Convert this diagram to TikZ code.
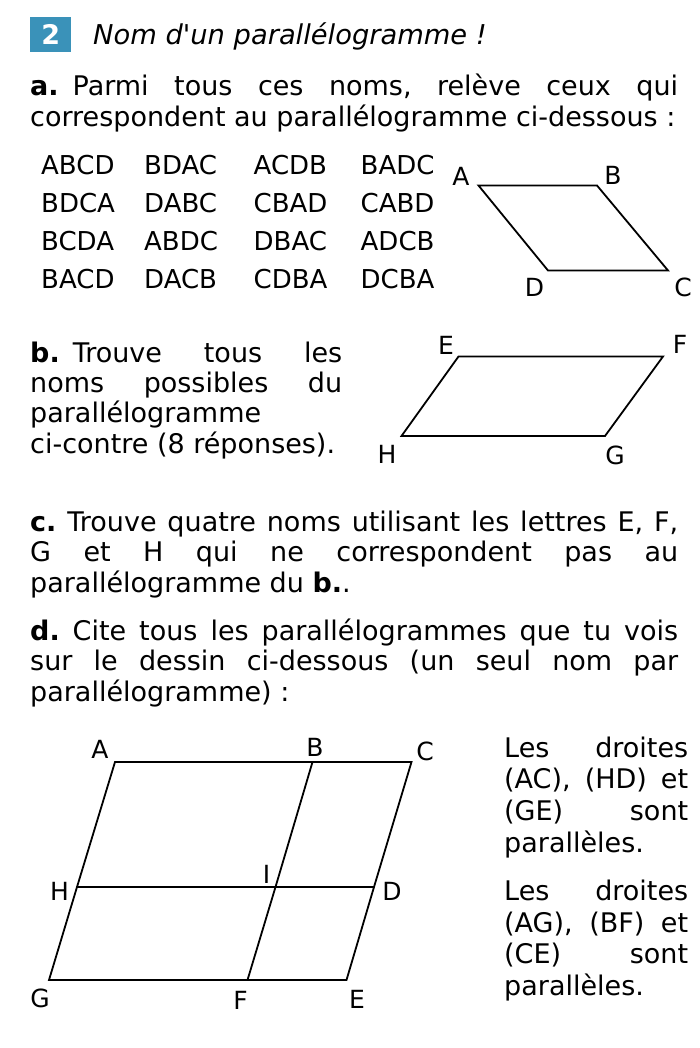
\documentclass[tikz,border=0pt]{standalone}
\usepackage{fontspec}
\setmainfont{DejaVu Sans}
\definecolor{boxblue}{RGB}{58,146,185}
\frenchspacing
\begin{document}
\begin{tikzpicture}[x=1pt,y=-1pt,
  txt/.style={anchor=base west,inner sep=0pt,font=\fontsize{27}{30}\selectfont},
  nm/.style={anchor=base west,inner sep=0pt,font=\fontsize{26}{30}\selectfont},
  lbl/.style={inner sep=0pt,font=\fontsize{25}{28}\selectfont},
  seg/.style={line width=1.8pt,line join=miter,line cap=round}]
\useasboundingbox[fill=white] (0,0) rectangle (700,1048);

% title
\node[fill=boxblue,minimum width=41pt,minimum height=35pt,inner sep=0pt,anchor=north west,
  text=white,font=\fontsize{27}{30}\selectfont\bfseries] (num) at (30,17) {2};
\node[txt,font=\fontsize{27.3}{30}\selectfont\itshape] (title) at (93,45) {Nom d\textquotesingle un parallélogramme !};

% part a
\node[txt] (a1) at (30,96) {\makebox[648pt][s]{\textbf{a.}\hspace{14pt}Parmi tous ces noms, relève ceux qui}};
\node[txt] (a2) at (30,127) {correspondent au parallélogramme ci-dessous :};

% names
\node[nm] (n11) at (41,175) {ABCD};
\node[nm] (n12) at (144,175) {BDAC};
\node[nm] (n13) at (253.5,175) {ACDB};
\node[nm] (n14) at (360.5,175) {BADC};
\node[nm] (n21) at (41,213) {BDCA};
\node[nm] (n22) at (144,213) {DABC};
\node[nm] (n23) at (253.5,213) {CBAD};
\node[nm] (n24) at (360.5,213) {CABD};
\node[nm] (n31) at (41,250.5) {BCDA};
\node[nm] (n32) at (144,250.5) {ABDC};
\node[nm] (n33) at (253.5,250.5) {DBAC};
\node[nm] (n34) at (360.5,250.5) {ADCB};
\node[nm] (n41) at (41,288) {BACD};
\node[nm] (n42) at (144,288) {DACB};
\node[nm] (n43) at (253.5,288) {CDBA};
\node[nm] (n44) at (360.5,288) {DCBA};

% parallelogram ABCD
\coordinate (pA) at (478.5,185.5);
\coordinate (pB) at (597,185.5);
\coordinate (pC) at (668,270.5);
\coordinate (pD) at (548,270.5);
\draw[seg] (pA) -- (pB) -- (pC) -- (pD) -- cycle;
\node[lbl] (lA) at (461,176) {A};
\node[lbl] (lB) at (613,175) {B};
\node[lbl] (lD) at (534.5,287) {D};
\node[lbl] (lC) at (683,287) {C};

% part b
\node[txt] (b1) at (30,362) {\makebox[312pt][s]{\textbf{b.}\hspace{13pt}Trouve tous les}};
\node[txt] (b2) at (30,392) {\makebox[312pt][s]{noms possibles du}};
\node[txt] (b3) at (30,422) {parallélogramme};
\node[txt] (b4) at (30,453) {ci-contre (8 réponses).};

% parallelogram EFGH
\coordinate (qE) at (458.5,356.5);
\coordinate (qF) at (663,356.5);
\coordinate (qG) at (605,436);
\coordinate (qH) at (401.5,436);
\draw[seg] (qE) -- (qF) -- (qG) -- (qH) -- cycle;
\node[lbl] (lE) at (446,345) {E};
\node[lbl] (lF) at (680,344) {F};
\node[lbl] (lH) at (387,454) {H};
\node[lbl] (lG) at (615,455) {G};

% part c
\node[txt] (c1) at (30,531) {\makebox[648pt][s]{\textbf{c.} Trouve quatre noms utilisant les lettres E, F,}};
\node[txt] (c2) at (30,561) {\makebox[648pt][s]{G et H qui ne correspondent pas au}};
\node[txt] (c3) at (30,592) {parallélogramme du \textbf{b.}.};

% part d
\node[txt] (d1) at (30,640) {\makebox[648pt][s]{\textbf{d.} Cite tous les parallélogrammes que tu vois}};
\node[txt] (d2) at (30,670) {\makebox[648pt][s]{sur le dessin ci-dessous (un seul nom par}};
\node[txt] (d3) at (30,701) {parallélogramme) :};

% figure d
\coordinate (A) at (115,762);
\coordinate (B) at (312.5,762);
\coordinate (C) at (411.5,762);
\coordinate (H) at (77,887);
\coordinate (I) at (275.5,887);
\coordinate (D) at (374,887);
\coordinate (G) at (49,980);
\coordinate (F) at (247.5,980);
\coordinate (E) at (346.5,980);
\draw[seg] (A) -- (B) -- (C) -- (D) -- (E) -- (F) -- (G) -- (H) -- cycle;
\draw[seg] (H) -- (I) -- (D);
\draw[seg] (B) -- (I) -- (F);
\node[lbl] (tA) at (100,749.5) {A};
\node[lbl] (tB) at (315,747) {B};
\node[lbl] (tC) at (425,751) {C};
\node[lbl] (tH) at (59.5,891) {H};
\node[lbl] (tI) at (266.5,874.5) {I};
\node[lbl] (tD) at (392,891) {D};
\node[lbl] (tG) at (40,998) {G};
\node[lbl] (tF) at (240.5,1000) {F};
\node[lbl] (tE) at (357,999.5) {E};

% right text
\node[txt] (r1) at (504,757) {\makebox[184pt][s]{Les droites}};
\node[txt] (r2) at (504,788) {\makebox[184pt][s]{(AC), (HD) et}};
\node[txt] (r3) at (504,820) {\makebox[184pt][s]{(GE) sont}};
\node[txt] (r4) at (504,852) {parallèles.};
\node[txt] (r5) at (504,900) {\makebox[184pt][s]{Les droites}};
\node[txt] (r6) at (504,932) {\makebox[184pt][s]{(AG), (BF) et}};
\node[txt] (r7) at (504,963) {\makebox[184pt][s]{(CE) sont}};
\node[txt] (r8) at (504,995) {parallèles.};
\end{tikzpicture}
\end{document}
